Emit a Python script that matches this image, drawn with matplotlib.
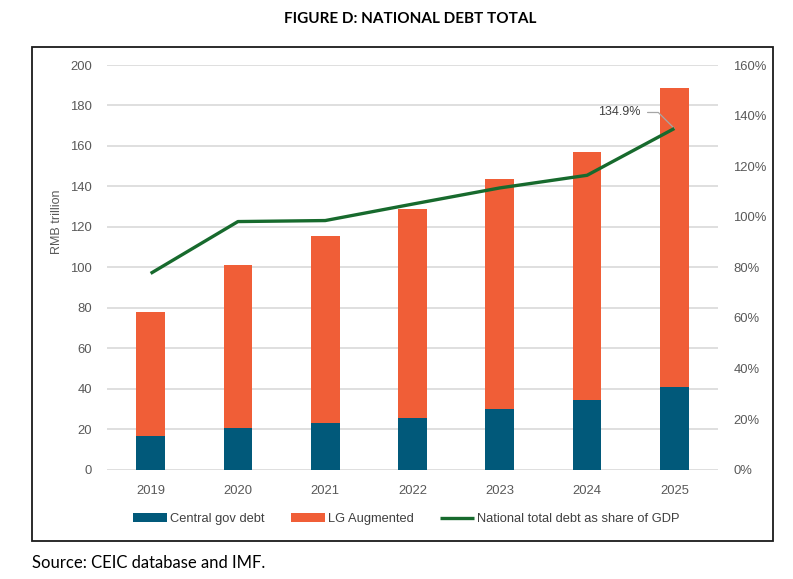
import matplotlib
matplotlib.use("Agg")
import matplotlib.pyplot as plt
import numpy as np
from matplotlib.patches import Rectangle
from matplotlib.ticker import FuncFormatter

# values
years = ["2019", "2020", "2021", "2022", "2023", "2024", "2025"]
central_debt = [16.8, 20.7, 23.2, 25.7, 29.8, 34.4, 41.0]
total_debt = [78.0, 101.4, 115.7, 128.7, 143.7, 156.9, 188.8]
lg_augmented = [t - c for t, c in zip(total_debt, central_debt)]
debt_to_gdp = [77.6, 98.1, 98.5, 105.0, 111.4, 116.4, 134.9]  # percent

c_central = "#01597A"
c_lg = "#F05E37"
c_line = "#176A2D"
c_text = "#595959"

plt.rcParams['font.family'] = ['Liberation Sans', 'DejaVu Sans']

W, H = 793, 579
fig = plt.figure(figsize=(W / 100, H / 100), dpi=100)

ax = fig.add_axes([107 / W, 1 - 469.7 / H, 611 / W, 404.7 / H])
x = np.arange(len(years))
bw = 0.33
ax.bar(x, central_debt, bw, color=c_central, label="Central gov debt", zorder=3)
ax.bar(x, lg_augmented, bw, bottom=central_debt, color=c_lg, label="LG Augmented", zorder=3)

ax.set_xlim(-0.5, len(years) - 0.5)
ax.set_ylim(0, 200)
ax.set_yticks(range(0, 201, 20))
ax.set_xticks(x)
ax.set_xticklabels(years)
ax.grid(axis="y", color="#D9D9D9", lw=1.2, zorder=0)
ax.set_axisbelow(True)
for s in ax.spines.values():
    s.set_visible(False)
ax.tick_params(axis="both", length=0, labelsize=9.4, labelcolor=c_text)
ax.tick_params(axis="y", pad=11)
ax.tick_params(axis="x", pad=11)

ax2 = ax.twinx()
ax2.plot(x, np.array(debt_to_gdp) / 100, color=c_line, lw=2.4, solid_capstyle="butt",
         label="National total debt as share of GDP", zorder=4)
ax2.set_ylim(0, 1.6)
ax2.set_yticks(np.arange(0, 1.61, 0.2))
ax2.yaxis.set_major_formatter(FuncFormatter(lambda v, p: f"{v * 100:.0f}%"))
for s in ax2.spines.values():
    s.set_visible(False)
ax2.tick_params(axis="y", length=0, labelsize=9.4, labelcolor=c_text, pad=11)

# data label on the last point, with a leader line
last = len(years) - 1
ax2.annotate(f"{debt_to_gdp[last]:.1f}%", xy=(x[last], debt_to_gdp[last] / 100),
             xytext=(-55 * 0.72, 16 * 0.72), textcoords="offset points",
             ha="center", va="center", fontsize=9, color="#404040",
             arrowprops=dict(arrowstyle="-", color="#A6A6A6", lw=0.9,
                             connectionstyle="angle,angleA=0,angleB=135,rad=0",
                             shrinkA=3, shrinkB=0))

fig.text(57 / W, 1 - 222 / H, "RMB trillion", rotation=90, ha="center", va="center",
         fontsize=9, color=c_text)

# legend
h1, l1 = ax.get_legend_handles_labels()
h2, l2 = ax2.get_legend_handles_labels()
fig.legend(h1 + h2, l1 + l2, loc="center", bbox_to_anchor=(406.5 / W, 1 - 519 / H),
           ncol=3, frameon=False, fontsize=9.3, handlelength=2.6, handleheight=0.6,
           columnspacing=2.05, handletextpad=0.25, labelcolor="#404040")

# outer frame
fig.add_artist(Rectangle((32 / W, 1 - 541 / H), (773 - 32) / W, (541 - 47) / H,
                         transform=fig.transFigure, fill=False, ec="#1a1a1a", lw=1.3))

fig.text(410 / W, 1 - 19 / H, "FIGURE D: NATIONAL DEBT TOTAL", ha="center", va="center",
         fontsize=11, fontweight="bold", family=["Lato", "DejaVu Sans"], color="black")
fig.text(32 / W, 1 - 563 / H, "Source: CEIC database and IMF.", ha="left", va="center",
         fontsize=12, family=["Lato", "DejaVu Sans"], color="black")

fig.savefig("out.png", dpi=100)
